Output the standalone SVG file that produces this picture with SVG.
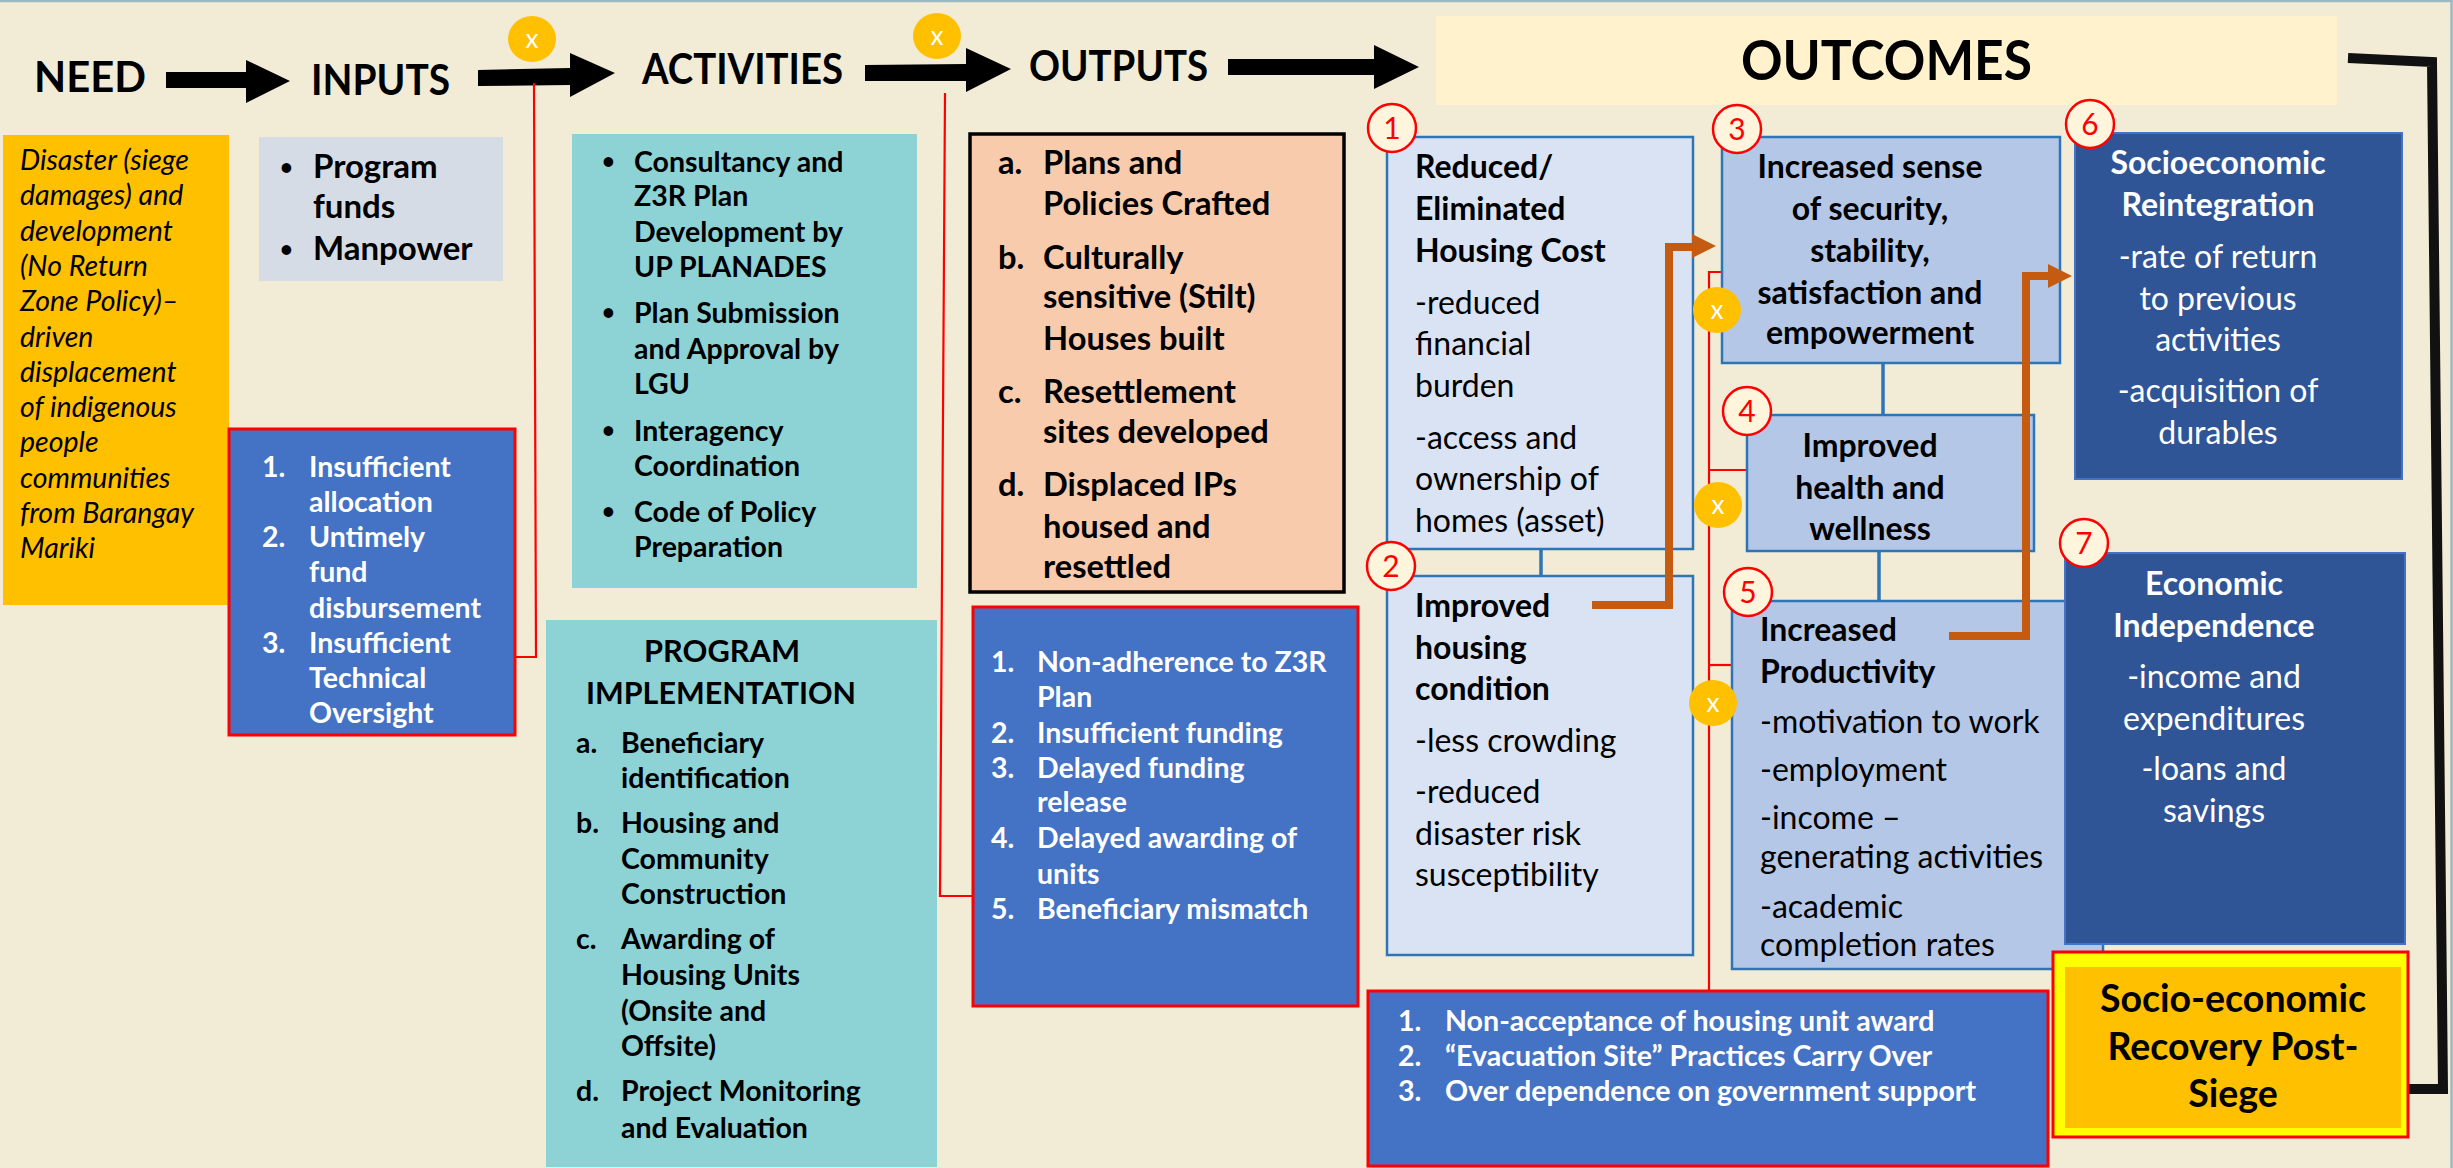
<svg xmlns="http://www.w3.org/2000/svg" width="2453" height="1168" viewBox="0 0 2453 1168">
<style>
text{font-family:Lato,"Liberation Sans",sans-serif;}
.hd{font-size:42px;font-weight:bold;fill:#000;}
.need{font-size:28.5px;font-style:italic;fill:#000;}
.inp{font-size:33px;font-weight:bold;fill:#000;}
.rk{font-size:28.5px;font-weight:bold;fill:#fff;}
.act{font-size:28.5px;font-weight:bold;fill:#000;}
.pt{font-size:31px;font-weight:bold;fill:#000;}
.op{font-size:32.7px;font-weight:bold;fill:#000;}
.ob{font-size:32px;font-weight:bold;fill:#000;}
.or{font-size:32px;fill:#000;}
.wb{font-size:32px;font-weight:bold;fill:#fff;}
.wr{font-size:32px;fill:#fff;}
.num{font-size:30px;fill:#FF0000;}
.xt{font-size:26px;fill:#fff;}
.sr{font-size:37.5px;font-weight:bold;fill:#000;}
.rb{font-size:28.6px;font-weight:bold;fill:#fff;}
.bul{font-size:22px;font-weight:bold;fill:#000;}
.c{text-anchor:middle;}
.risk{fill:#4472C4;stroke:#FF0000;stroke-width:3;}
.obl{fill:#DAE3F3;stroke:#2E75B6;stroke-width:2.5;}
.obm{fill:#B4C7E7;stroke:#2E75B6;stroke-width:2.5;}
.odk{fill:#2F5597;stroke:#4472C4;stroke-width:2;}
.teal{fill:#8DD2D5;}
.ncirc{fill:#FFF4DC;stroke:#FF0000;stroke-width:2.5;}
.xcirc{fill:#FFC000;}
.red{fill:none;stroke:#FF0000;stroke-width:2.2;}
.blu{fill:none;stroke:#2E75B6;stroke-width:3.5;}
.org{fill:none;stroke:#C55A11;stroke-width:8;}
</style>
<rect x="0" y="0" width="2453" height="1168" fill="#F2ECD7"/>
<line x1="0" y1="1" x2="2453" y2="1" stroke="#9DB8C2" stroke-width="2.5"/>
<line x1="2451.5" y1="0" x2="2451.5" y2="1168" stroke="#9DB8C2" stroke-width="2.5"/>

<g id="headers">
<text class="hd" x="34" y="92" textLength="112" lengthAdjust="spacingAndGlyphs">NEED</text>
<text class="hd" x="311" y="95" textLength="139" lengthAdjust="spacingAndGlyphs">INPUTS</text>
<text class="hd" x="642" y="84" textLength="201" lengthAdjust="spacingAndGlyphs">ACTIVITIES</text>
<text class="hd" x="1029" y="81" textLength="179" lengthAdjust="spacingAndGlyphs">OUTPUTS</text>
</g>
<g id="outcomes-header">
<rect x="1436" y="16" width="901" height="89" fill="#FFF2CC"/>
<text x="1741" y="80" style="font-size:55px;font-weight:bold" textLength="291" lengthAdjust="spacingAndGlyphs">OUTCOMES</text>
</g>

<g id="connectors">
<polygon fill="#000" points="166,72 246,72 246,60 290,81 246,103 246,88 166,88"/>
<polygon fill="#000" points="478,70 570,68 570,53 615,73 570,97 570,85 478,86"/>
<polygon fill="#000" points="865,65 966,64 966,48 1011,69 966,92 966,81 865,81"/>
<polygon fill="#000" points="1228,59 1374,59 1374,45 1419,67 1374,89 1374,75 1228,75"/>
<polyline fill="none" stroke="#111" stroke-width="10" stroke-linejoin="miter" points="2348,58 2432,62 2443,1089 2403,1089"/>
<polyline class="red" points="534,83 536,657 515,657"/>
<polyline class="red" points="945,93 940,896 973,896"/>
<polyline class="red" points="1722,272 1709,272 1709,991"/>
<line class="red" x1="1709" y1="470" x2="1747" y2="470"/>
<line class="red" x1="1709" y1="665" x2="1732" y2="665"/>
<line class="blu" x1="1541" y1="549" x2="1541" y2="576"/>
<line class="blu" x1="1883" y1="363" x2="1883" y2="415"/>
<line class="blu" x1="1879" y1="551" x2="1879" y2="601"/>
</g>

<g id="need">
<rect x="3" y="135" width="226" height="470" fill="#FFC000"/>
<text class="need" x="20" y="170">Disaster (siege</text>
<text class="need" x="20" y="205">damages) and</text>
<text class="need" x="20" y="241">development</text>
<text class="need" x="20" y="276">(No Return</text>
<text class="need" x="20" y="311">Zone Policy)–</text>
<text class="need" x="20" y="347">driven</text>
<text class="need" x="20" y="382">displacement</text>
<text class="need" x="20" y="417">of indigenous</text>
<text class="need" x="20" y="452">people</text>
<text class="need" x="20" y="488">communities</text>
<text class="need" x="20" y="523">from Barangay</text>
<text class="need" x="20" y="558">Mariki</text>
</g>

<g id="inputs">
<rect x="259" y="137" width="244" height="144" fill="#D6DCE5"/>
<text class="bul" x="280" y="175">•</text><text class="inp" x="313" y="178">Program</text>
<text class="inp" x="313" y="218">funds</text>
<text class="bul" x="280" y="257">•</text><text class="inp" x="313" y="260">Manpower</text>
</g>

<g id="inputs-risks">
<rect class="risk" x="229" y="429" width="286" height="306"/>
<text class="rk" x="262" y="477">1.</text><text class="rk" x="309" y="477">Insufficient</text>
<text class="rk" x="309" y="512">allocation</text>
<text class="rk" x="262" y="547">2.</text><text class="rk" x="309" y="547">Untimely</text>
<text class="rk" x="309" y="582">fund</text>
<text class="rk" x="309" y="618">disbursement</text>
<text class="rk" x="262" y="653">3.</text><text class="rk" x="309" y="653">Insufficient</text>
<text class="rk" x="309" y="688">Technical</text>
<text class="rk" x="309" y="723">Oversight</text>
</g>

<g id="activities">
<rect class="teal" x="572" y="134" width="345" height="454"/>
<text class="bul" x="602" y="169">•</text><text class="act" x="634" y="172">Consultancy and</text>
<text class="act" x="634" y="206">Z3R Plan</text>
<text class="act" x="634" y="242">Development by</text>
<text class="act" x="634" y="277">UP PLANADES</text>
<text class="bul" x="602" y="320">•</text><text class="act" x="634" y="323">Plan Submission</text>
<text class="act" x="634" y="359">and Approval by</text>
<text class="act" x="634" y="394">LGU</text>
<text class="bul" x="602" y="438">•</text><text class="act" x="634" y="441">Interagency</text>
<text class="act" x="634" y="476">Coordination</text>
<text class="bul" x="602" y="519">•</text><text class="act" x="634" y="522">Code of Policy</text>
<text class="act" x="634" y="557">Preparation</text>
</g>

<g id="program-implementation">
<rect class="teal" x="546" y="620" width="391" height="547"/>
<text class="pt" x="644" y="662" textLength="156" lengthAdjust="spacingAndGlyphs">PROGRAM</text>
<text class="pt" x="586" y="704" textLength="270" lengthAdjust="spacingAndGlyphs">IMPLEMENTATION</text>
<text class="act" x="576" y="753">a.</text><text class="act" x="621" y="753">Beneficiary</text>
<text class="act" x="621" y="788">identification</text>
<text class="act" x="576" y="833">b.</text><text class="act" x="621" y="833">Housing and</text>
<text class="act" x="621" y="869">Community</text>
<text class="act" x="621" y="904">Construction</text>
<text class="act" x="576" y="949">c.</text><text class="act" x="621" y="949">Awarding of</text>
<text class="act" x="621" y="985">Housing Units</text>
<text class="act" x="621" y="1021">(Onsite and</text>
<text class="act" x="621" y="1056">Offsite)</text>
<text class="act" x="576" y="1101">d.</text><text class="act" x="621" y="1101">Project Monitoring</text>
<text class="act" x="621" y="1138">and Evaluation</text>
</g>

<g id="outputs">
<rect x="970" y="134" width="374" height="458" fill="#F8CBAD" stroke="#000" stroke-width="3.5"/>
<text class="op" x="998" y="174">a.</text><text class="op" x="1043" y="174">Plans and</text>
<text class="op" x="1043" y="215">Policies Crafted</text>
<text class="op" x="998" y="269">b.</text><text class="op" x="1043" y="269">Culturally</text>
<text class="op" x="1043" y="308">sensitive (Stilt)</text>
<text class="op" x="1043" y="350">Houses built</text>
<text class="op" x="998" y="403">c.</text><text class="op" x="1043" y="403">Resettlement</text>
<text class="op" x="1043" y="443">sites developed</text>
<text class="op" x="998" y="496">d.</text><text class="op" x="1043" y="496">Displaced IPs</text>
<text class="op" x="1043" y="538">housed and</text>
<text class="op" x="1043" y="578">resettled</text>
</g>

<g id="outputs-risks">
<rect class="risk" x="973" y="607" width="385" height="399"/>
<text class="rk" x="991" y="672">1.</text><text class="rk" x="1037" y="672">Non-adherence to Z3R</text>
<text class="rk" x="1037" y="707">Plan</text>
<text class="rk" x="991" y="743">2.</text><text class="rk" x="1037" y="743">Insufficient funding</text>
<text class="rk" x="991" y="778">3.</text><text class="rk" x="1037" y="778">Delayed funding</text>
<text class="rk" x="1037" y="812">release</text>
<text class="rk" x="991" y="848">4.</text><text class="rk" x="1037" y="848">Delayed awarding of</text>
<text class="rk" x="1037" y="884">units</text>
<text class="rk" x="991" y="919">5.</text><text class="rk" x="1037" y="919">Beneficiary mismatch</text>
</g>

<g id="outcome-1">
<rect class="obl" x="1387" y="137" width="306" height="412"/>
<text class="ob" x="1415" y="178">Reduced/</text>
<text class="ob" x="1415" y="220">Eliminated</text>
<text class="ob" x="1415" y="262">Housing Cost</text>
<text class="or" x="1415" y="314">-reduced</text>
<text class="or" x="1415" y="355">financial</text>
<text class="or" x="1415" y="397">burden</text>
<text class="or" x="1415" y="449">-access and</text>
<text class="or" x="1415" y="490">ownership of</text>
<text class="or" x="1415" y="532">homes (asset)</text>
<circle class="ncirc" cx="1392" cy="128" r="24"/><text class="num c" x="1392" y="139">1</text>
</g>

<g id="outcome-2">
<rect class="obl" x="1387" y="576" width="306" height="379"/>
<text class="ob" x="1415" y="617">Improved</text>
<text class="ob" x="1415" y="659">housing</text>
<text class="ob" x="1415" y="700">condition</text>
<text class="or" x="1415" y="752">-less crowding</text>
<text class="or" x="1415" y="803">-reduced</text>
<text class="or" x="1415" y="845">disaster risk</text>
<text class="or" x="1415" y="886">susceptibility</text>
<circle class="ncirc" cx="1391" cy="566" r="24"/><text class="num c" x="1391" y="577">2</text>
</g>

<g id="outcome-3">
<rect class="obm" x="1722" y="137" width="338" height="226"/>
<text class="ob c" x="1870" y="178">Increased sense</text>
<text class="ob c" x="1870" y="220">of security,</text>
<text class="ob c" x="1870" y="262">stability,</text>
<text class="ob c" x="1870" y="304">satisfaction and</text>
<text class="ob c" x="1870" y="344">empowerment</text>
<circle class="ncirc" cx="1737" cy="129" r="24"/><text class="num c" x="1737" y="140">3</text>
</g>

<g id="outcome-4">
<rect class="obm" x="1747" y="415" width="287" height="136"/>
<text class="ob c" x="1870" y="457">Improved</text>
<text class="ob c" x="1870" y="499">health and</text>
<text class="ob c" x="1870" y="540">wellness</text>
<circle class="ncirc" cx="1747" cy="411" r="24"/><text class="num c" x="1747" y="422">4</text>
</g>

<g id="outcome-5">
<rect class="obm" x="1732" y="601" width="371" height="368"/>
<text class="ob" x="1760" y="641">Increased</text>
<text class="ob" x="1760" y="683">Productivity</text>
<text class="or" x="1760" y="733">-motivation to work</text>
<text class="or" x="1760" y="781">-employment</text>
<text class="or" x="1760" y="829">-income –</text>
<text class="or" x="1760" y="868">generating activities</text>
<text class="or" x="1760" y="918">-academic</text>
<text class="or" x="1760" y="956">completion rates</text>
<circle class="ncirc" cx="1748" cy="592" r="24"/><text class="num c" x="1748" y="603">5</text>
</g>

<g id="outcome-6">
<rect class="odk" x="2075" y="133" width="327" height="346"/>
<text class="wb c" x="2218" y="174">Socioeconomic</text>
<text class="wb c" x="2218" y="216">Reintegration</text>
<text class="wr c" x="2218" y="268">-rate of return</text>
<text class="wr c" x="2218" y="310">to previous</text>
<text class="wr c" x="2218" y="351">activities</text>
<text class="wr c" x="2218" y="402">-acquisition of</text>
<text class="wr c" x="2218" y="444">durables</text>
<circle class="ncirc" cx="2090" cy="124" r="24"/><text class="num c" x="2090" y="135">6</text>
</g>

<g id="outcome-7">
<rect class="odk" x="2065" y="553" width="340" height="391"/>
<text class="wb c" x="2214" y="595">Economic</text>
<text class="wb c" x="2214" y="637">Independence</text>
<text class="wr c" x="2214" y="688">-income and</text>
<text class="wr c" x="2214" y="730">expenditures</text>
<text class="wr c" x="2214" y="780">-loans and</text>
<text class="wr c" x="2214" y="822">savings</text>
<circle class="ncirc" cx="2084" cy="543" r="24"/><text class="num c" x="2084" y="554">7</text>
</g>

<g id="outcome-arrows">
<polyline class="org" points="1592,605 1669,605 1669,247 1694,247"/>
<polygon fill="#C55A11" points="1692,234 1716,246 1692,258"/>
<polyline class="org" points="1949,636 2026,636 2026,276 2050,276"/>
<polygon fill="#C55A11" points="2048,264 2072,276 2048,288"/>
</g>

<g id="outcomes-risks">
<rect class="risk" x="1368" y="991" width="680" height="175"/>
<text class="rb" x="1398" y="1031">1.</text><text class="rb" x="1445" y="1031">Non-acceptance of housing unit award</text>
<text class="rb" x="1398" y="1066">2.</text><text class="rb" x="1445" y="1066">“Evacuation Site” Practices Carry Over</text>
<text class="rb" x="1398" y="1101">3.</text><text class="rb" x="1445" y="1101">Over dependence on government support</text>
</g>

<g id="goal">
<rect x="2053" y="952" width="355" height="185" fill="#FFFF00" stroke="#FF0000" stroke-width="3"/>
<rect x="2065" y="967" width="336" height="161" fill="#FFC000"/>
<text class="sr c" x="2233" y="1012">Socio-economic</text>
<text class="sr c" x="2233" y="1060">Recovery Post-</text>
<text class="sr c" x="2233" y="1107">Siege</text>
</g>

<g id="assumption-markers">
<ellipse class="xcirc" cx="532" cy="39" rx="24" ry="23"/><text class="xt c" x="532" y="48">x</text>
<ellipse class="xcirc" cx="937" cy="36" rx="24" ry="23"/><text class="xt c" x="937" y="45">x</text>
<ellipse class="xcirc" cx="1717" cy="310" rx="24" ry="23"/><text class="xt c" x="1717" y="319">x</text>
<ellipse class="xcirc" cx="1718" cy="505" rx="24" ry="23"/><text class="xt c" x="1718" y="514">x</text>
<ellipse class="xcirc" cx="1713" cy="703" rx="24" ry="23"/><text class="xt c" x="1713" y="712">x</text>
</g>
</svg>
